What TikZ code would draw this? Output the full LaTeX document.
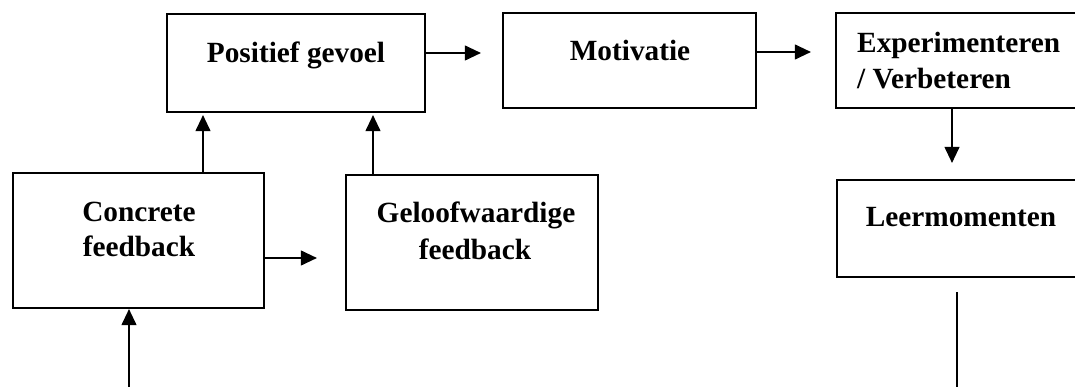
\documentclass[tikz,border=0pt]{standalone}
\usepackage{fontspec}
\setmainfont{Liberation Serif}
\usetikzlibrary{arrows.meta}
\begin{document}
\begin{tikzpicture}[x=1pt,y=-1pt,
  box/.style={draw, line width=2.2pt, rectangle, inner sep=0pt},
  txt/.style={inner sep=0pt, font=\fontsize{29.3}{35}\selectfont\bfseries},
  arr/.style={line width=1.1pt, -{Triangle[length=16pt,width=15pt]}},
  plain/.style={line width=1.1pt}]
\useasboundingbox (0,0) rectangle (1075,387);
\clip (0,0) rectangle (1075,387);
% boxes
\node[box, minimum width=258pt, minimum height=98pt] (pos) at (296,63) {};
\node[box, minimum width=253pt, minimum height=95pt] (mot) at (629.5,60.5) {};
\node[box, minimum width=250pt, minimum height=95pt] (exp) at (961,60.5) {};
\node[box, minimum width=251pt, minimum height=135pt] (con) at (138.5,240.5) {};
\node[box, minimum width=252pt, minimum height=135pt] (gel) at (472,242.5) {};
\node[box, minimum width=248pt, minimum height=97pt] (leer) at (961,228.5) {};
% texts
\node[txt, anchor=base] (tpos) at (296,63) {Positief gevoel};
\node[txt, anchor=base] (tmot) at (630,61) {Motivatie};
\node[txt, anchor=base west] (texp1) at (857,53) {Experimenteren};
\node[txt, anchor=base west] (texp2) at (857,89) {/ Verbeteren};
\node[txt, anchor=base] (tcon1) at (139,221.7) {Concrete};
\node[txt, anchor=base] (tcon2) at (139,256.7) {feedback};
\node[txt, anchor=base] (tgel1) at (476,222.7) {Geloofwaardige};
\node[txt, anchor=base] (tgel2) at (475,259) {feedback};
\node[txt, anchor=base] (tleer) at (961,226.7) {Leermomenten};
% free ends
\coordinate (in) at (129,387);
\coordinate (out) at (957,387);
% connectors
\draw[arr, shorten >=21pt] (pos.east |- 0,53) -- (mot.west |- 0,53);
\draw[arr, shorten >=24pt] (mot.east |- 0,52) -- (exp.west |- 0,52);
\draw[arr, shorten >=16pt] (exp.south -| 952,0) -- (leer.north -| 952,0);
\draw[arr, shorten >=2pt] (con.north -| 203,0) -- (pos.south -| 203,0);
\draw[arr, shorten >=2pt] (gel.north -| 373,0) -- (pos.south -| 373,0);
\draw[arr, shorten >=28pt] (con.east |- 0,258) -- (gel.west |- 0,258);
\draw[arr] (in) -- (con.south -| in);
\draw[plain, shorten <=14pt] (leer.south -| out) -- (out);
\end{tikzpicture}
\end{document}
